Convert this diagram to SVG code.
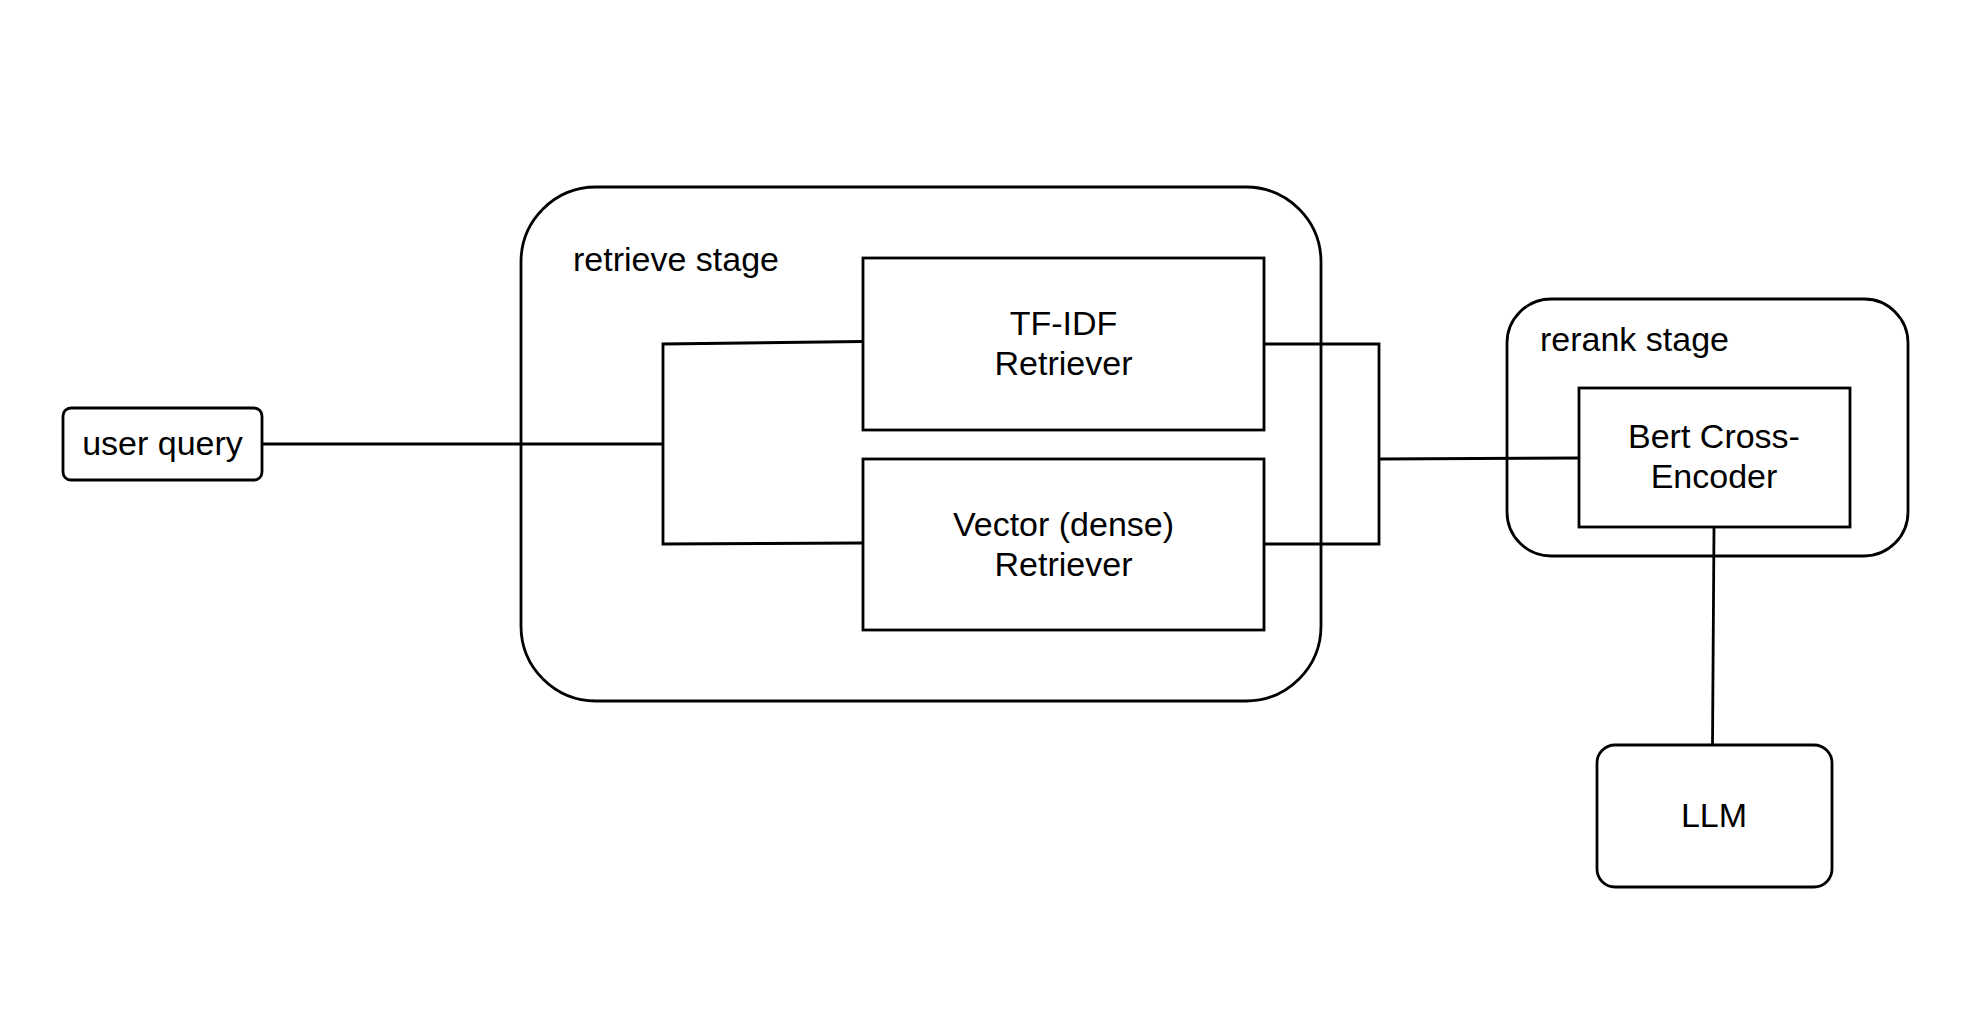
<svg xmlns="http://www.w3.org/2000/svg" width="1976" height="1024" viewBox="0 0 1976 1024">
<style>
.box{fill:#fff;stroke:#000;stroke-width:2.8}
.ct{fill:none;stroke:#000;stroke-width:2.8}
.w{stroke:#000;stroke-width:2.8;fill:none}
text{font-family:"Liberation Sans",Arial,sans-serif;font-size:34px;fill:#000}
.c{text-anchor:middle}
</style>
<rect width="1976" height="1024" fill="#fff"/>
<g id="retrieve-stage"><rect class="ct" x="521" y="187" width="800" height="514" rx="75" ry="75"/><text x="573" y="271">retrieve stage</text></g>
<g id="rerank-stage"><rect class="ct" x="1507" y="299" width="401" height="257" rx="44" ry="44"/><text x="1540" y="351">rerank stage</text></g>
<g id="connectors">
<path class="w" d="M262 444 H663"/>
<path class="w" d="M863 341.5 L663 344 V544 L863 543"/>
<path class="w" d="M1264 344 H1379 V544 H1264"/>
<path class="w" d="M1379 459 L1579 458"/>
<path class="w" d="M1714 527 L1712.5 745"/>
</g>
<g id="user-query"><rect class="box" x="63" y="408" width="199" height="72" rx="8" ry="8"/><text class="c" x="162.5" y="455">user query</text></g>
<g id="tfidf"><rect class="box" x="863" y="258" width="401" height="172"/><text class="c" x="1063.5" y="335">TF-IDF</text><text class="c" x="1063.5" y="375">Retriever</text></g>
<g id="vector"><rect class="box" x="863" y="459" width="401" height="171"/><text class="c" x="1063.5" y="536">Vector (dense)</text><text class="c" x="1063.5" y="576">Retriever</text></g>
<g id="bert"><rect class="box" x="1579" y="388" width="271" height="139"/><text class="c" x="1714" y="448">Bert Cross-</text><text class="c" x="1714" y="488">Encoder</text></g>
<g id="llm"><rect class="box" x="1597" y="745" width="235" height="142" rx="18" ry="18"/><text class="c" x="1714" y="827">LLM</text></g>
</svg>
